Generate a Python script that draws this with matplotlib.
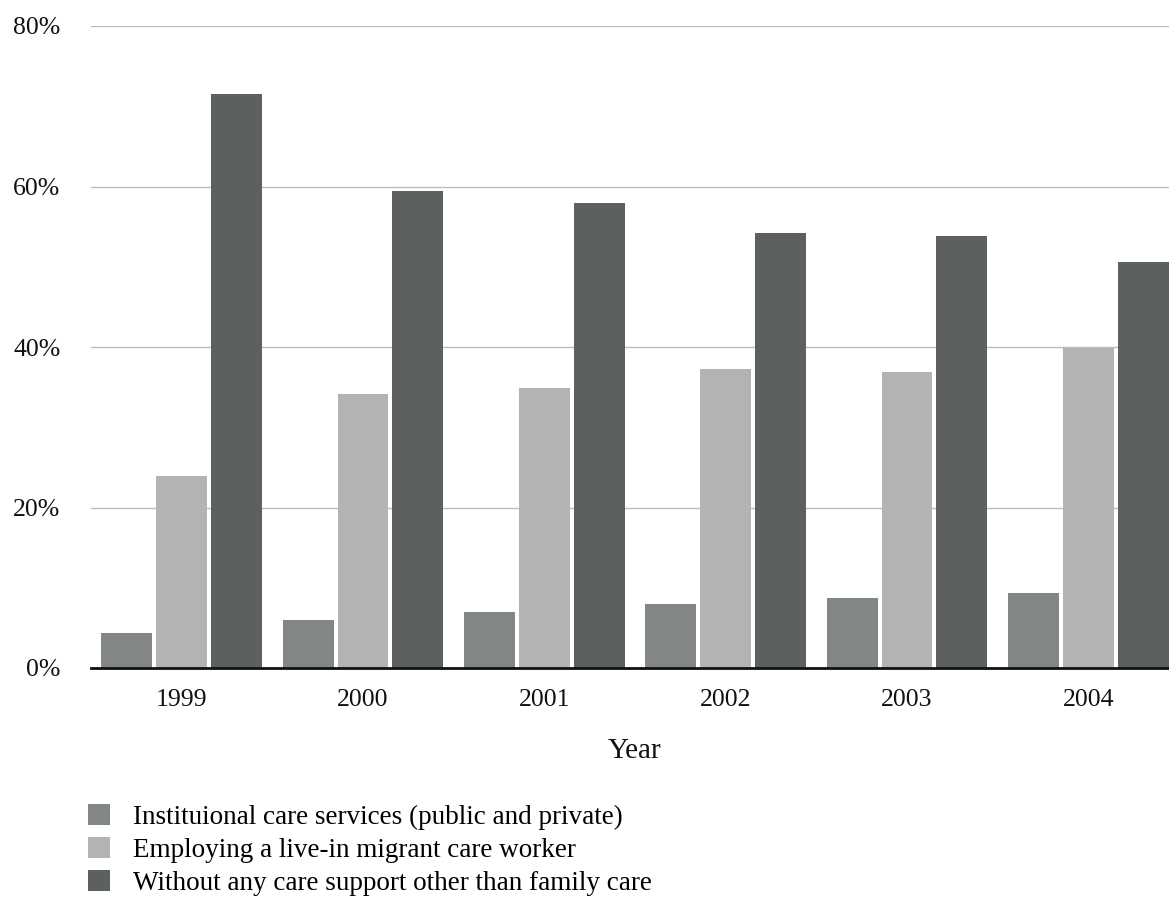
import matplotlib
matplotlib.use("Agg")
import matplotlib.pyplot as plt
from matplotlib.patches import Patch
import numpy as np

years = ["1999", "2000", "2001", "2002", "2003", "2004"]
institutional = [4.4, 6.0, 7.0, 8.0, 8.7, 9.3]
migrant_worker = [23.9, 34.2, 34.9, 37.2, 36.9, 39.9]
family_only = [71.5, 59.5, 57.9, 54.2, 53.8, 50.6]

series_labels = [
    "Instituional care services (public and private)",
    "Employing a live-in migrant care worker",
    "Without any care support other than family care",
]
series_colors = ["#828785", "#b3b3b3", "#5c605f"]
y_ticks = [0, 20, 40, 60, 80]

plt.rcParams["font.family"] = ["Liberation Serif", "DejaVu Serif"]

W, H = 1169, 900
fig = plt.figure(figsize=(W / 100, H / 100), dpi=100)
# plot area runs a little past the right edge of the figure
ax = fig.add_axes([91 / W, 1 - 668 / H, (1179 - 91) / W, (668 - 26) / H])

x = np.arange(len(years))
bar_w = 0.281
step = 0.303
for i, (vals, col) in enumerate(zip([institutional, migrant_worker, family_only], series_colors)):
    ax.bar(x + (i - 1) * step, vals, width=bar_w, color=col, zorder=3)

ax.set_xlim(-0.5, len(years) - 0.5)
ax.set_ylim(0, 80)
ax.set_yticks(y_ticks)
ax.set_yticklabels([f"{t}%" for t in y_ticks])
ax.set_xticks(x)
ax.set_xticklabels(years)
ax.tick_params(axis="both", length=0, labelsize=18.5, colors="#111111")
ax.tick_params(axis="y", pad=22)
ax.tick_params(axis="x", pad=15)
ax.yaxis.grid(True, color="#bdbdbd", linewidth=1, zorder=0)
for s in ["top", "right", "left"]:
    ax.spines[s].set_visible(False)
ax.spines["bottom"].set_linewidth(2)
ax.spines["bottom"].set_color("#111111")
ax.spines["bottom"].set_zorder(4)

fig.text(635 / W, 1 - 751 / H, "Year", ha="center", va="center", fontsize=21, color="#111111")

handles = [Patch(facecolor=c, edgecolor="none") for c in series_colors]
fig.legend(handles, series_labels, loc="upper left",
           bbox_to_anchor=(80 / W, 1 - 796 / H), frameon=False,
           fontsize=19.5, handlelength=0.81, handleheight=0.81,
           handletextpad=0.85, labelspacing=0.26, borderaxespad=0,
           borderpad=0.3)

fig.savefig("out.png", dpi=100)
